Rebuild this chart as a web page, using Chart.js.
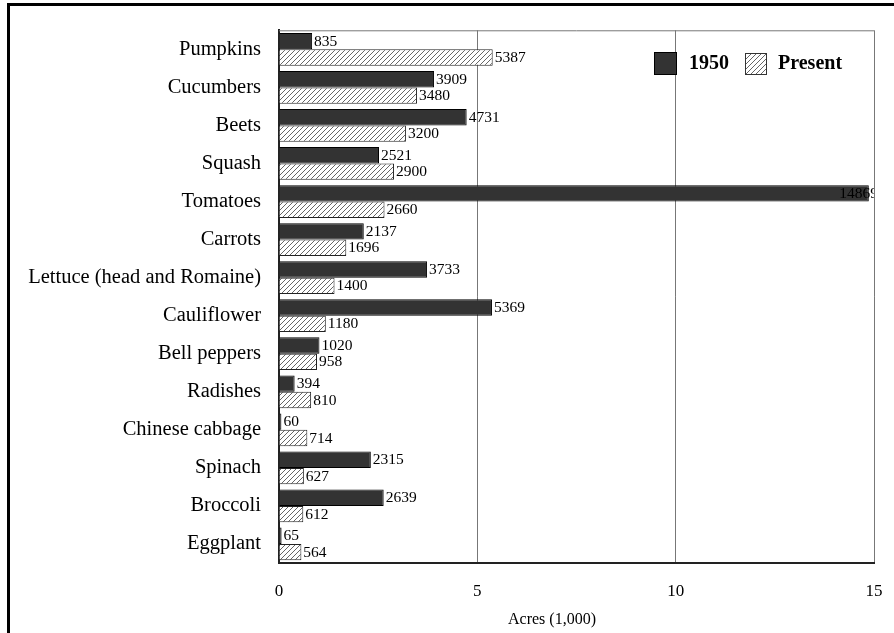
<!DOCTYPE html>
<html>
<head>
<meta charset="utf-8">
<script src="https://cdn.jsdelivr.net/npm/chart.js@4/dist/chart.umd.min.js"></script>
<style>html,body{margin:0;padding:0;background:#fff;overflow:hidden}</style>
</head>
<body>
<canvas id="grafico" width="894" height="633"></canvas>
<script>
const categories = ['Pumpkins', 'Cucumbers', 'Beets', 'Squash', 'Tomatoes', 'Carrots',
  'Lettuce (head and Romaine)', 'Cauliflower', 'Bell peppers', 'Radishes',
  'Chinese cabbage', 'Spinach', 'Broccoli', 'Eggplant'];
const acres1950 = [835, 3909, 4731, 2521, 14869, 2137, 3733, 5369, 1020, 394, 60, 2315, 2639, 65];
const acresPresent = [5387, 3480, 3200, 2900, 2660, 1696, 1400, 1180, 958, 810, 714, 627, 612, 564];
const xTicks = [0, 5, 10, 15];

const SERIF = "'Liberation Serif', 'Times New Roman', serif";
Chart.defaults.font.family = SERIF;
Chart.defaults.color = '#000';

const canvas = document.getElementById('grafico');
const ctx = canvas.getContext('2d');

// rayado diagonal para la serie actual
function makeHatch() {
  const c = document.createElement('canvas');
  c.width = 5; c.height = 5;
  const g = c.getContext('2d');
  g.fillStyle = '#fff';
  g.fillRect(0, 0, 5, 5);
  g.strokeStyle = '#555';
  g.lineWidth = 0.9;
  g.beginPath();
  g.moveTo(0, 5); g.lineTo(5, 0);
  g.moveTo(-1, 1); g.lineTo(1, -1);
  g.moveTo(4, 6); g.lineTo(6, 4);
  g.stroke();
  return ctx.createPattern(c, 'repeat');
}
const hatch = makeHatch();

const extras = {
  id: 'extras',
  afterDatasetsDraw(chart) {
    const { ctx, chartArea } = chart;
    ctx.save();
    ctx.beginPath();
    ctx.rect(chartArea.left, chartArea.top, chartArea.right - chartArea.left, chartArea.bottom - chartArea.top);
    ctx.clip();
    ctx.font = '15.5px ' + SERIF;
    ctx.fillStyle = '#000';
    ctx.textBaseline = 'middle';
    ctx.textAlign = 'left';
    chart.data.datasets.forEach((ds, di) => {
      const meta = chart.getDatasetMeta(di);
      meta.data.forEach((bar, i) => {
        const txt = String(ds.raw[i]);
        const w = ctx.measureText(txt).width;
        let x = bar.x + 2;
        if (x + w > chartArea.right) x = chartArea.right + 4 - w;
        ctx.fillText(txt, x, bar.y + 0.5);
      });
    });
    ctx.restore();
  },
  afterDraw(chart) {
    const { ctx, chartArea } = chart;
    ctx.save();
    // borde superior del área
    ctx.strokeStyle = '#777';
    ctx.lineWidth = 1;
    ctx.beginPath();
    ctx.moveTo(chartArea.left, chartArea.top + 0.5);
    ctx.lineTo(chartArea.right, chartArea.top + 0.5);
    ctx.stroke();

    // leyenda
    ctx.fillStyle = '#333';
    ctx.fillRect(654, 52, 22, 22);
    ctx.strokeStyle = '#000';
    ctx.strokeRect(654.5, 52.5, 22, 22);
    ctx.fillStyle = hatch;
    ctx.fillRect(745, 53, 21, 21);
    ctx.strokeStyle = '#333';
    ctx.strokeRect(745.5, 53.5, 21, 21);
    ctx.fillStyle = '#000';
    ctx.font = 'bold 20px ' + SERIF;
    ctx.textBaseline = 'middle';
    ctx.textAlign = 'left';
    ctx.fillText('1950', 689, 64);
    ctx.fillText('Present', 778, 64);

    // título del eje
    ctx.font = '16px ' + SERIF;
    ctx.textAlign = 'center';
    ctx.fillText('Acres (1,000)', 552, 620);

    // marco exterior
    ctx.fillStyle = '#000';
    ctx.fillRect(7, 3, 887, 3);
    ctx.fillRect(7, 3, 3, 630);
    ctx.restore();
  }
};

const config = {
  type: 'bar',
  data: {
    labels: categories,
    datasets: [{
      label: '1950',
      raw: acres1950,
      data: acres1950.map(v => v / 1000),
      backgroundColor: '#333',
      borderColor: '#000',
      borderWidth: 1,
      categoryPercentage: 0.86,
      barPercentage: 1
    }, {
      label: 'Present',
      raw: acresPresent,
      data: acresPresent.map(v => v / 1000),
      backgroundColor: hatch,
      borderColor: '#222',
      borderWidth: 1,
      categoryPercentage: 0.86,
      barPercentage: 1
    }]
  },
  options: {
    indexAxis: 'y',
    responsive: false,
    animation: false,
    devicePixelRatio: 1,
    layout: { padding: { top: 29, right: 20, bottom: 0, left: 0 } },
    plugins: { legend: { display: false }, tooltip: { enabled: false } },
    scales: {
      x: {
        min: 0, max: 15,
        afterBuildTicks: s => { s.ticks = xTicks.map(v => ({ value: v })); },
        afterFit: s => { s.height = 70; s.paddingLeft = 0; s.paddingRight = 0; },
        ticks: { font: { size: 17 }, color: '#000', padding: 18 },
        grid: { color: '#777', lineWidth: 1, drawTicks: false },
        border: { display: true, color: '#222', width: 2 }
      },
      y: {
        afterFit: s => { s.width = 279; },
        ticks: { font: { size: 20.5 }, color: '#000', padding: 18 },
        grid: { display: false, drawTicks: false },
        border: { display: true, color: '#222', width: 2 }
      }
    }
  },
  plugins: [extras]
};

new Chart(ctx, config);
</script>
</body>
</html>
